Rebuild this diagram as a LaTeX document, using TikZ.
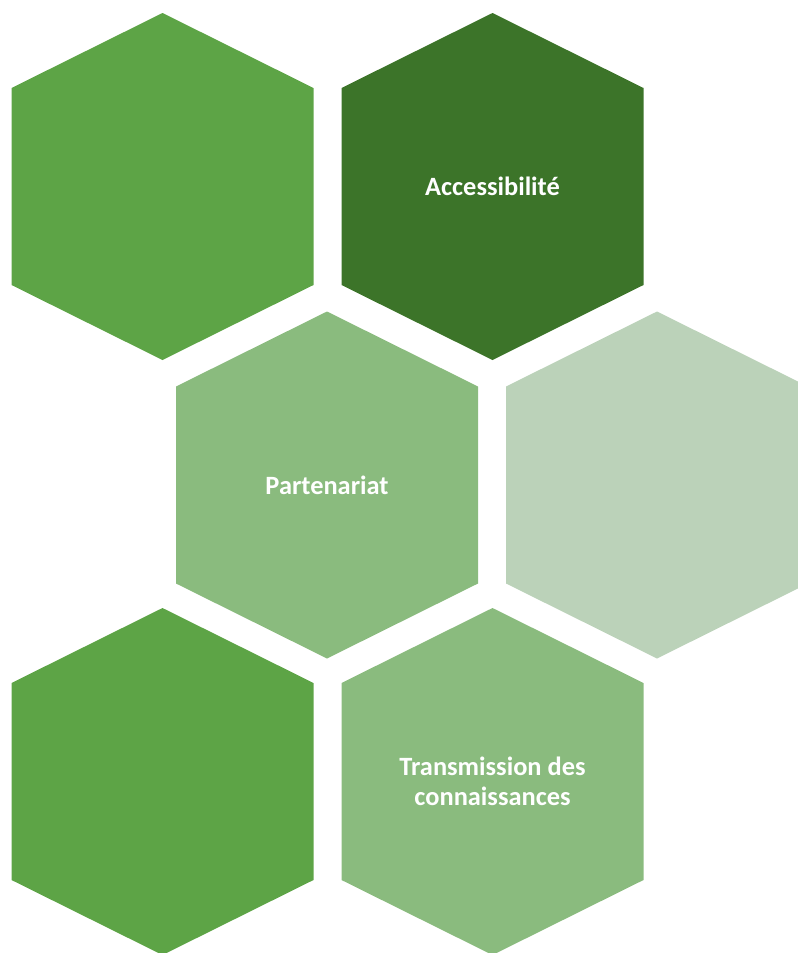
\documentclass[tikz,border=0pt]{standalone}
\usepackage{fontspec}
\setmainfont{Carlito}
\definecolor{gmid}{HTML}{5DA446}
\definecolor{gdark}{HTML}{3C7429}
\definecolor{glight}{HTML}{8ABB7E}
\definecolor{gpale}{HTML}{BBD2B9}
\newcommand\hexshape[3]{\fill[#3] (#1,#2) ++(0,-173.5) -- ++(151,75) -- ++(0,197) -- ++(-151,75) -- ++(-151,-75) -- ++(0,-197) -- cycle;}
\begin{document}
\begin{tikzpicture}[x=1bp,y=-1bp,
  hexlabel/.style={text=white,font=\bfseries\fontsize{26.5}{30}\selectfont,align=center,inner sep=0pt}]
\useasboundingbox (0,0) rectangle (798,953);
\begin{scope}
\clip (0,0) rectangle (798,953);
\hexshape{162.5}{186.5}{gmid}
\hexshape{492.5}{186.5}{gdark}
\hexshape{327}{485}{glight}
\hexshape{657}{485}{gpale}
\hexshape{162.5}{781.5}{gmid}
\hexshape{492.5}{781.5}{glight}
\end{scope}
\node[hexlabel] (acc) at (492.5,186.5) {Accessibilité};
\node[hexlabel] (part) at (327,485) {Partenariat};
\node[hexlabel] (trans) at (492.5,781.5) {Transmission des\\connaissances};
\end{tikzpicture}
\end{document}
